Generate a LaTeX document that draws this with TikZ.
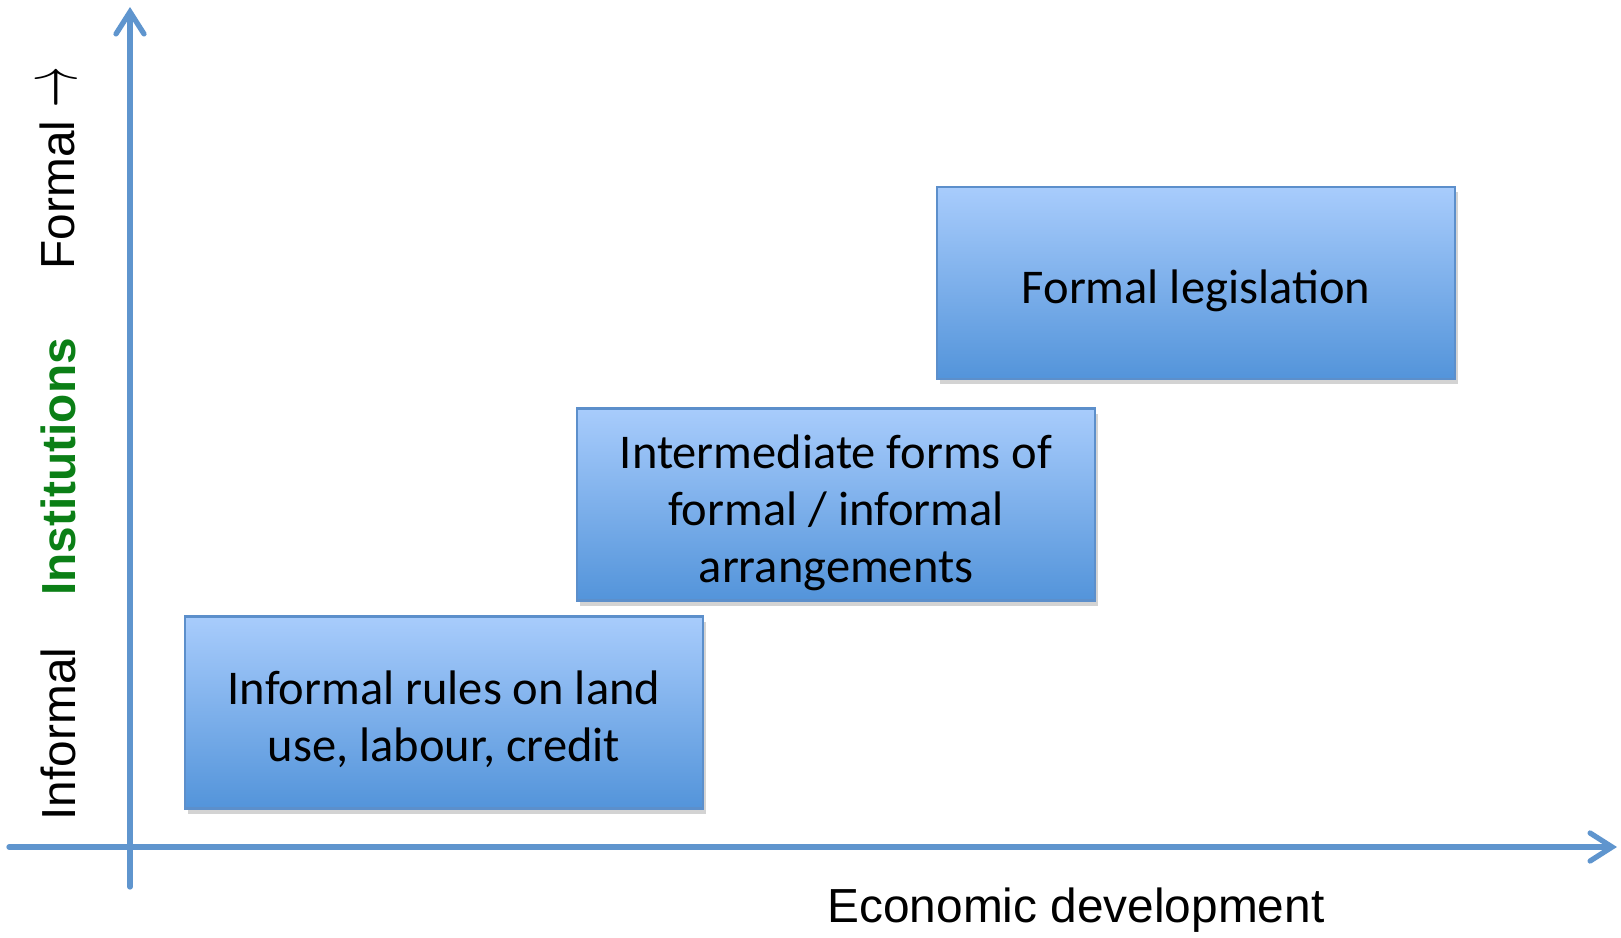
\documentclass[tikz,border=0pt]{standalone}
\usepackage{fontspec}
\usepackage{graphicx}
\setmainfont{Carlito}
\newfontfamily\arialfont{Liberation Sans}
\usepackage{tikz}
\usetikzlibrary{arrows.meta,positioning,shadows}
\definecolor{axisblue}{HTML}{5F95CE}
\definecolor{boxtop}{HTML}{A8CCFC}
\definecolor{boxbottom}{HTML}{5394DA}
\definecolor{boxedge}{HTML}{5C8FCB}
\definecolor{instgreen}{HTML}{0B7F16}

% box text sits a little below the middle
\newcommand{\stagetext}[1]{\raisebox{-2.7pt}[\height][\depth]{\begin{tabular}{@{}c@{}}#1\end{tabular}}}

\tikzset{
  stagebox/.style={draw=boxedge,line width=0.6pt,top color=boxtop,bottom color=boxbottom,
    minimum width=5.18cm,minimum height=1.92cm,inner sep=0pt,
    font=\fontsize{13.8}{16.2}\selectfont,
    drop shadow={opacity=0.35,shadow xshift=0.03cm,shadow yshift=-0.05cm}},
  axislabel/.style={rotate=90,font=\arialfont\fontsize{13.6}{15}\selectfont},
  axisline/.style={axisblue,line width=1.5pt,line cap=round}
}

\begin{document}
\begin{tikzpicture}
  \useasboundingbox (0,0) rectangle (16.21,9.37);

  % Axes
  \coordinate (yfoot) at (1.30,0.50);
  \coordinate (ytop)  at (1.30,9.30);
  \coordinate (xleft) at (0.09,0.90);
  \coordinate (xend)  at (16.17,0.90);
  \draw[axisline,-{Straight Barb[length=0.22cm,width=0.28cm,line cap=round]}] (yfoot) -- (ytop);
  \draw[axisline,-{Straight Barb[length=0.22cm,width=0.28cm,line cap=round]}] (xleft) -- (xend);

  % Stages
  \node[stagebox] (informal) at (4.44,2.245) {\stagetext{Informal rules on land\\use, labour, credit}};
  \node[stagebox] (mixed)    at (8.36,4.325) {\stagetext{Intermediate forms of\\formal / informal\\arrangements}};
  \node[stagebox] (formal)   at (11.96,6.54) {\stagetext{Formal legislation}};

  % Axis labels
  \node[axislabel] (lowlab)  at (0.58,2.03) {Informal};
  \node[axislabel,text=instgreen,font=\arialfont\bfseries\fontsize{13.6}{15}\selectfont] (instlab) at (0.58,4.70) {Institutions};
  \node[axislabel] (highlab) at (0.58,7.69) {Formal \raisebox{-0.5pt}{\scalebox{0.8}[1.6]{$\rightarrow$}}};
  \node[font=\arialfont\fontsize{13.6}{15}\selectfont] (devlab) at (10.76,0.27) {Economic development};
\end{tikzpicture}
\end{document}
